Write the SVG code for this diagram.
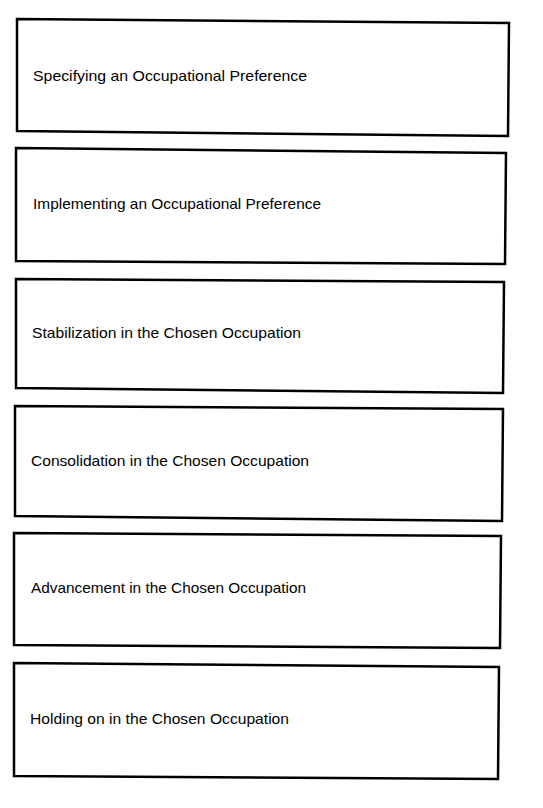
<svg xmlns="http://www.w3.org/2000/svg" width="543" height="808" viewBox="0 0 543 808">
<style>
.box{fill:#ffffff;stroke:#000000;stroke-width:2.5;stroke-linejoin:miter}
.lbl{font-family:"Liberation Sans",Arial,sans-serif;font-size:15px;fill:#000000}
</style>
<rect x="0" y="0" width="543" height="808" fill="#ffffff"/>
<g id="connectors"></g>
<g id="node1">
<polygon class="box" points="17,19 509,23 508,136 17,131"/>
<text class="lbl" x="33" y="81" textLength="274" lengthAdjust="spacingAndGlyphs">Specifying an Occupational Preference</text>
</g>
<g id="node2">
<polygon class="box" points="16,148 506,153 505,264 16,261"/>
<text class="lbl" x="33" y="209" textLength="288" lengthAdjust="spacingAndGlyphs">Implementing an Occupational Preference</text>
</g>
<g id="node3">
<polygon class="box" points="16,279 504,282 503,393 16,388"/>
<text class="lbl" x="32" y="338" textLength="269" lengthAdjust="spacingAndGlyphs">Stabilization in the Chosen Occupation</text>
</g>
<g id="node4">
<polygon class="box" points="15,406 503,409 502,521 15,516"/>
<text class="lbl" x="31" y="466" textLength="278" lengthAdjust="spacingAndGlyphs">Consolidation in the Chosen Occupation</text>
</g>
<g id="node5">
<polygon class="box" points="14,533 501,536 500,648 14,645"/>
<text class="lbl" x="31" y="593" textLength="275" lengthAdjust="spacingAndGlyphs">Advancement in the Chosen Occupation</text>
</g>
<g id="node6">
<polygon class="box" points="14,663 499,667 498,779 14,776"/>
<text class="lbl" x="30" y="724" textLength="259" lengthAdjust="spacingAndGlyphs">Holding on in the Chosen Occupation</text>
</g>
</svg>
